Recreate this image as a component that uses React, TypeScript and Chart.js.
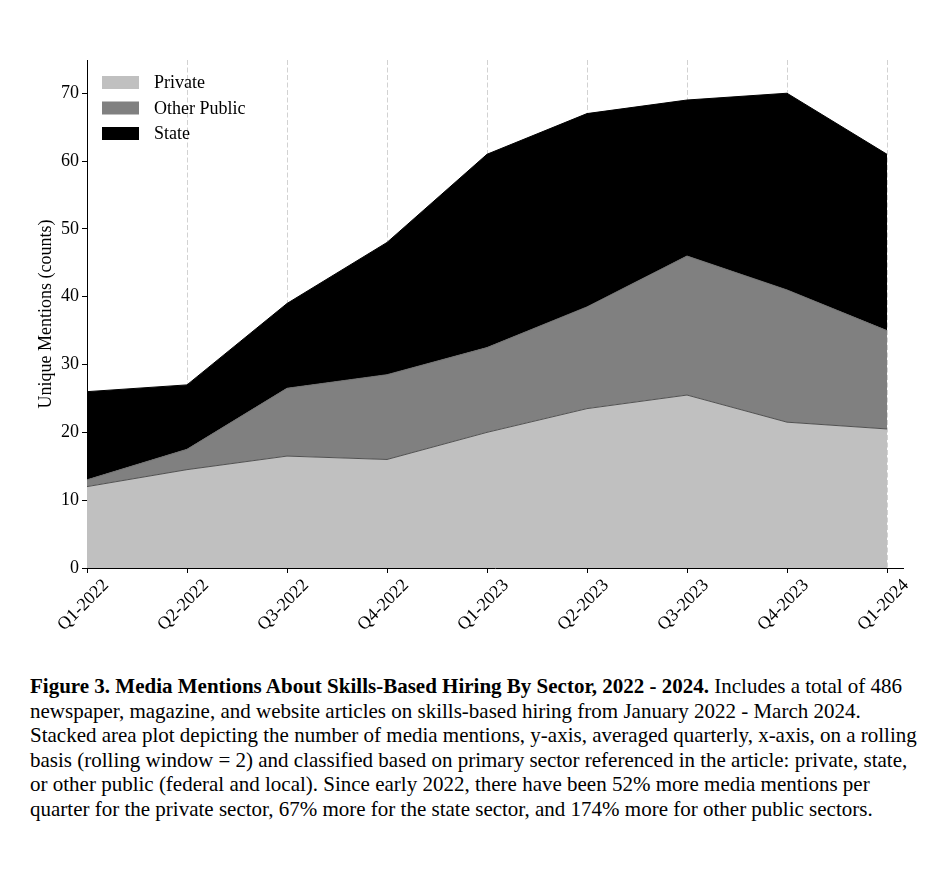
import React, { useEffect, useRef } from "react";
import { Chart, registerables } from "chart.js";

Chart.register(...registerables);

const categories = ["Q1-2022", "Q2-2022", "Q3-2022", "Q4-2022", "Q1-2023", "Q2-2023", "Q3-2023", "Q4-2023", "Q1-2024"];
const privateValues = [12, 14.5, 16.5, 16, 20, 23.5, 25.5, 21.5, 20.5];
const otherPublicValues = [1, 3, 10, 12.5, 12.5, 15, 20.5, 19.5, 14.5];
const stateValues = [13, 9.5, 12.5, 19.5, 28.5, 28.5, 23, 29, 26];
const yTickValues = [0, 10, 20, 30, 40, 50, 60, 70];
const seriesNames = ["Private", "Other Public", "State"];
const seriesColors = ["#c0c0c0", "#808080", "#000000"];

const FONT = "'Liberation Serif', 'Times New Roman', serif";

const toPoints = (vals: number[]) => vals.map((v, i) => ({ x: i, y: v }));

const legendPlugin = {
  id: "insideLegend",
  afterDraw(chart: any) {
    const ctx = chart.ctx;
    ctx.save();
    ctx.font = `18px ${FONT}`;
    ctx.textBaseline = "middle";
    seriesNames.forEach((name, i) => {
      const cy = 74.5 + i * 25.5;
      ctx.fillStyle = seriesColors[i];
      ctx.fillRect(94, cy - 6.5, 37, 13);
      ctx.fillStyle = "#000";
      ctx.fillText(name, 146, cy + 1);
    });
    ctx.restore();
  },
};

export default function App() {
  const ref = useRef<HTMLCanvasElement | null>(null);
  useEffect(() => {
    if (!ref.current) return;
    const chart = new Chart(ref.current, {
      type: "line",
      data: {
        datasets: [
          {
            label: seriesNames[0],
            data: toPoints(privateValues),
            backgroundColor: seriesColors[0],
            borderColor: "#505050",
            borderWidth: 1,
            fill: "origin",
            pointRadius: 0,
            tension: 0,
          },
          {
            label: seriesNames[1],
            data: toPoints(otherPublicValues),
            backgroundColor: seriesColors[1],
            borderColor: "#707070",
            borderWidth: 1,
            fill: "-1",
            pointRadius: 0,
            tension: 0,
          },
          {
            label: seriesNames[2],
            data: toPoints(stateValues),
            backgroundColor: seriesColors[2],
            borderColor: "#000000",
            borderWidth: 1,
            fill: "-1",
            pointRadius: 0,
            tension: 0,
          },
        ],
      },
      options: {
        responsive: false,
        animation: false,
        devicePixelRatio: 1,
        layout: { padding: { left: 0, top: 52, right: 30, bottom: 0 } },
        plugins: {
          legend: { display: false },
          tooltip: { enabled: false },
          title: { display: false },
        },
        scales: {
          x: {
            type: "linear",
            min: 0,
            max: 8.16,
            offset: false,
            z: 1,
            grid: {
              display: true,
              drawOnChartArea: true,
              drawTicks: true,
              tickLength: 5,
              tickColor: "#000",
              lineWidth: 1,
              color: (c: any) => (c.index === 0 ? "rgba(0,0,0,0)" : "#d2d2d2"),
            },
            border: { display: true, color: "#000", width: 1, dash: [5, 2.5] },
            afterBuildTicks: (scale: any) => {
              scale.ticks = categories.map((_, i) => ({ value: i }));
            },
            ticks: {
              autoSkip: false,
              minRotation: 45,
              maxRotation: 45,
              labelOffset: 19,
              padding: 2,
              color: "#000",
              font: { family: FONT, size: 18 },
              callback: (_v: any, i: number) => categories[i],
            },
            afterFit: (scale: any) => {
              scale.height = 90;
            },
          },
          y: {
            stacked: true,
            min: 0,
            max: 74.9,
            z: 1,
            grid: {
              display: true,
              drawOnChartArea: false,
              drawTicks: true,
              tickLength: 5,
              tickColor: "#000",
            },
            border: { display: true, color: "#000", width: 1 },
            ticks: {
              padding: 3,
              color: "#000",
              font: { family: FONT, size: 18 },
            },
            afterBuildTicks: (scale: any) => {
              scale.ticks = yTickValues.map((v) => ({ value: v }));
            },
            title: {
              display: true,
              text: "Unique Mentions (counts)",
              color: "#000",
              font: { family: FONT, size: 18 },
              padding: { top: 27, bottom: 0 },
            },
            afterFit: (scale: any) => {
              scale.width = 79;
            },
          },
        },
      },
      plugins: [legendPlugin],
    });
    return () => chart.destroy();
  }, []);

  return (
    <div>
      <canvas ref={ref} width={925} height={650} style={{ display: "block", width: 925, height: 650 }} />
      <div
        style={{
          fontFamily: FONT,
          fontSize: "21px",
          lineHeight: "24.6px",
          paddingLeft: 22,
          marginTop: 16,
          whiteSpace: "nowrap",
          color: "#000",
        }}
      >
        <b>Figure 3. Media Mentions About Skills-Based Hiring By Sector, 2022 - 2024.</b> Includes a total of 486
        <br />
        newspaper, magazine, and website articles on skills-based hiring from January 2022 - March 2024.
        <br />
        Stacked area plot depicting the number of media mentions, y-axis, averaged quarterly, x-axis, on a rolling
        <br />
        basis (rolling window = 2) and classified based on primary sector referenced in the article: private, state,
        <br />
        or other public (federal and local). Since early 2022, there have been 52% more media mentions per
        <br />
        quarter for the private sector, 67% more for the state sector, and 174% more for other public sectors.
      </div>
    </div>
  );
}
